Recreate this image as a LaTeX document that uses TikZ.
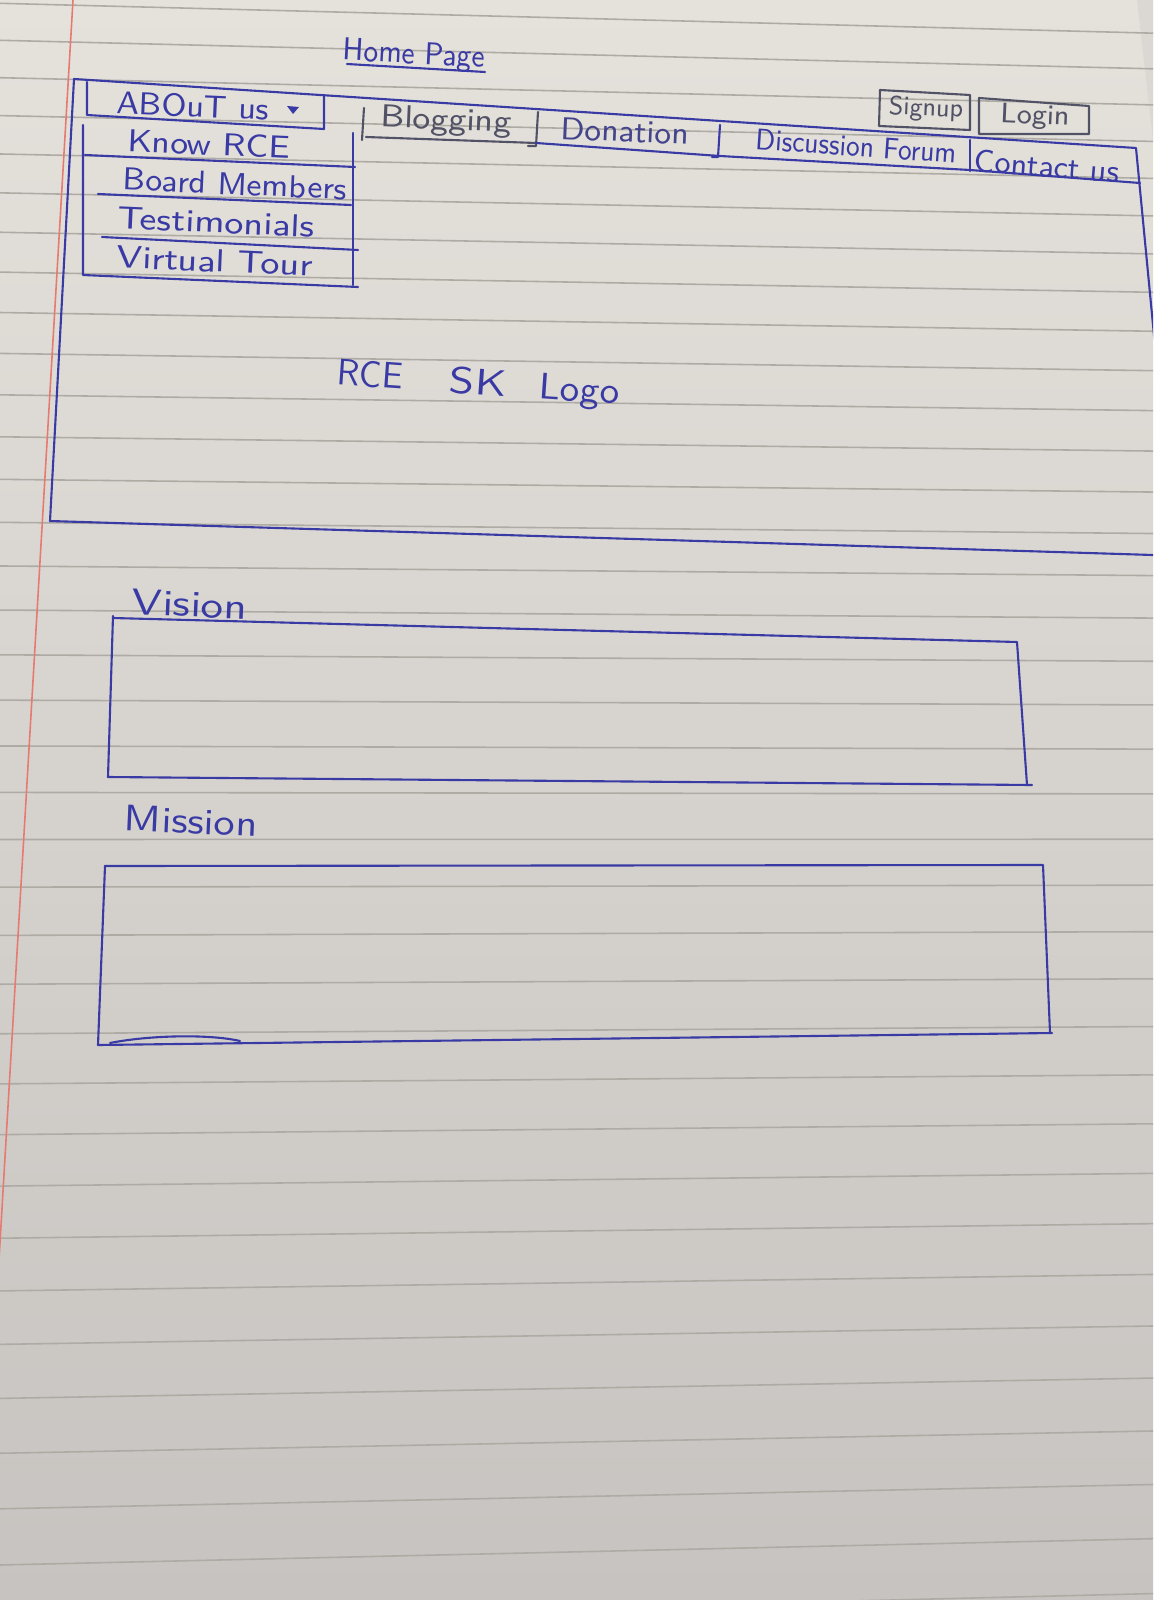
\documentclass[tikz,border=0pt]{standalone}
\usepackage{fontspec}
\usepackage{graphicx}
\usetikzlibrary{positioning}

\definecolor{ink}{RGB}{58,58,165}
\definecolor{pencil}{RGB}{82,82,102}
\definecolor{paper}{RGB}{229,226,220}
\definecolor{paperdark}{RGB}{198,195,192}
\definecolor{rule}{RGB}{174,170,164}
\definecolor{margin}{RGB}{230,122,112}

% stretch a handwritten label to the width it has on the sheet
\newcommand{\fitw}[2]{\resizebox{#1}{\height}{#2}}

\tikzset{
  pen/.style={draw=ink, line width=0.6pt, line join=round, line cap=round},
  penpencil/.style={draw=pencil, line width=0.6pt, line join=round, line cap=round},
  hand/.style={font=\sffamily\fontsize{9}{10}\selectfont, text=ink, inner sep=0pt, rotate=-2.5},
  handgray/.style={hand, text=pencil},
  handbig/.style={hand, font=\sffamily\fontsize{10.5}{12}\selectfont, rotate=0},
}

\begin{document}
\begin{tikzpicture}[x=0.01cm, y=-0.01cm]
  \useasboundingbox (0,0) rectangle (1153,1600);
  \clip (0,0) rectangle (1153,1600);

  % the ruled sheet
  \shade[top color=paper, bottom color=paperdark] (0,0) rectangle (1153,1600);
  \fill[paperdark!90!black!20!paper] (1137,0) -- (1153,0) -- (1153,140) -- cycle;
  \foreach \n in {0,...,35} {
    \pgfmathsetmacro\yl{2888.3*1.0128^\n-2885}
    \pgfmathsetmacro\yr{\yl+30-0.036*\yl}
    \draw[rule, line width=0.45pt] (0,\yl) -- (1153,\yr);
  }
  \draw[margin, line width=0.45pt] (73,0) -- (-21,1600);

  % title
  \node[hand, rotate=-0.5] (homepage) at (414,56) {\fitw{1.42cm}{Home Page}};
  \draw[pen] (347,64) -- (485,72);

  % header frame
  \draw[pen] (50,521) -- (74,79) -- (1136,148) -- (1165,450);
  \draw[pen] (50,521) -- (1153,555);

  % about us with its drop-down
  \draw[pen] (87,82) -- (87,115) -- (324,129) -- (324,95);
  \node[hand] (aboutus) at (193,106) {\fitw{1.53cm}{ABOuT us}};
  \fill[ink] (287,106) -- (299,107) -- (293,114) -- cycle;
  \draw[pen] (83,125) -- (83,275) -- (358,287);
  \draw[pen] (353,133) -- (353,285);
  \draw[pen] (85,155) -- (355,167);
  \draw[pen] (98,194) -- (351,205);
  \draw[pen] (102,237) -- (358,250);
  \node[hand] (know) at (209,144) {\fitw{1.63cm}{Know RCE}};
  \node[hand] (board) at (235,184) {\fitw{2.24cm}{Board Members}};
  \node[hand] (testi) at (216,222) {\fitw{1.97cm}{Testimonials}};
  \node[hand] (tour) at (215,261) {\fitw{1.96cm}{Virtual Tour}};

  % tabs
  \draw[penpencil] (364,108) -- (362,140);
  \draw[penpencil] (366,137) -- (536,143);
  \draw[penpencil] (538,112) -- (536,146) -- (528,146);
  \draw[pen] (536,143) -- (720,156) -- (970,170) -- (1140,183);
  \draw[pen] (720,125) -- (718,157) -- (712,157);
  \draw[pen] (970,140) -- (970,171);
  \node[handgray] (blog) at (446,122) {\fitw{1.31cm}{Blogging}};
  \node[hand, text=ink!60!pencil] (donate) at (625,131) {\fitw{1.28cm}{Donation}};
  \node[hand, font=\sffamily\fontsize{8.5}{9}\selectfont, rotate=-1.5] (forum) at (856,146) {\fitw{2.01cm}{Discussion Forum}};
  \node[hand, rotate=-2] (contact) at (1047,166) {\fitw{1.45cm}{Contact us}};

  % sign up and login
  \draw[penpencil] (880,90) -- (970,95) -- (970,130) -- (879,126) -- cycle;
  \draw[penpencil] (979,98) -- (1089,106) -- (1089,134) -- (979,134) -- cycle;
  \node[handgray, font=\sffamily\fontsize{7.5}{8}\selectfont] (signup) at (926,109) {\fitw{0.74cm}{Signup}};
  \node[handgray, font=\sffamily\fontsize{8}{9}\selectfont, rotate=0] (login) at (1035,117) {\fitw{0.69cm}{Login}};

  % logo placeholder
  \node[handbig, rotate=-1.5] (logo) at (478,385)
    {\fitw{0.66cm}{RCE}\hspace{0.47cm}\fitw{0.57cm}{SK}\hspace{0.33cm}\fitw{0.8cm}{Logo}};

  % vision
  \node[handbig] (vision) at (190,604) {\fitw{1.15cm}{Vision}};
  \draw[pen] (113,618) -- (1017,642) -- (1027,785);
  \draw[pen] (113,616) -- (108,777);
  \draw[pen] (108,777) -- (1032,785);

  % mission
  \node[handbig] (mission) at (191,821) {\fitw{1.33cm}{Mission}};
  \draw[pen] (105,866) -- (1043,865) -- (1050,1033);
  \draw[pen] (105,866) -- (98,1045);
  \draw[pen] (98,1045) -- (1052,1033);
  \draw[pen] (110,1043) .. controls (150,1035) and (210,1034) .. (240,1041);
\end{tikzpicture}
\end{document}
